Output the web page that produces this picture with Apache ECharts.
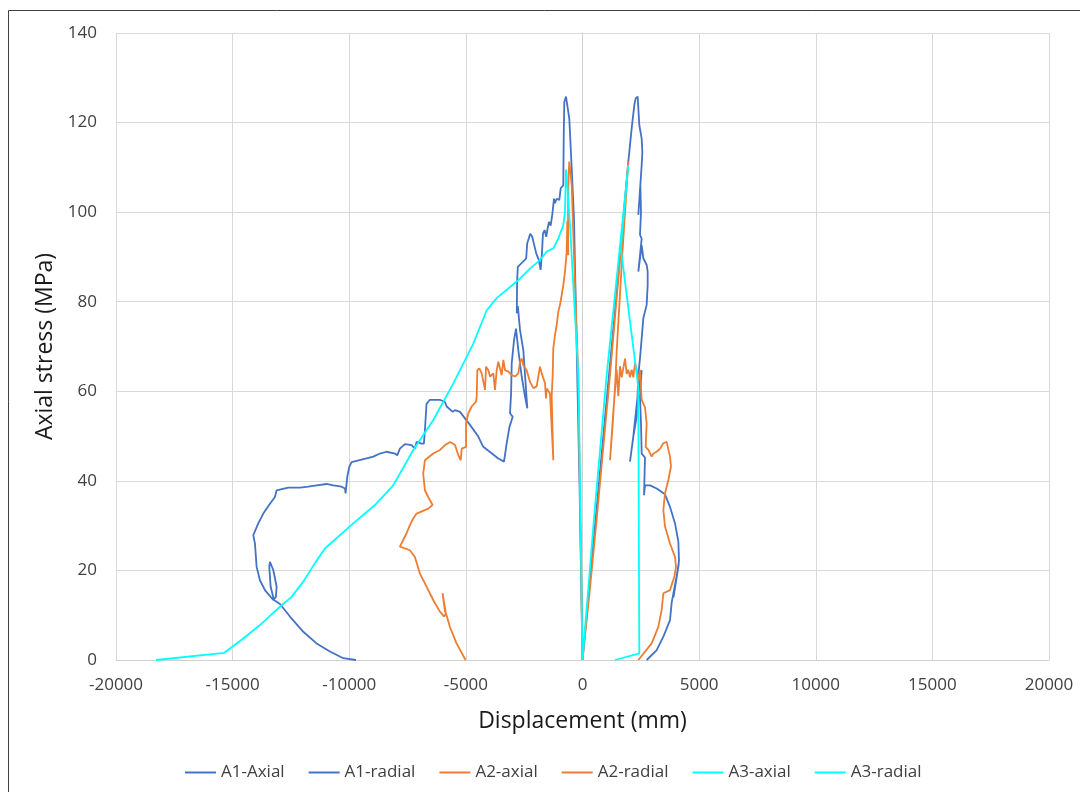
<!DOCTYPE html>
<html>
<head>
<meta charset="utf-8">
<script src="https://cdn.jsdelivr.net/npm/echarts@6/dist/echarts.min.js"></script>
<style>
  html, body { margin: 0; padding: 0; background: #fff; }
  #box { width: 1080px; height: 792px; }
</style>
</head>
<body>
<div id="box"></div>
<script>
// values: [displacement (mm), axial stress (MPa)]
const aA1Axial = [
    [0,0],[500,28],[1000,56],[1500,84],[1965,111.3],[2108,118.7],[2222,123.9],[2279,125.4],[2365,125.8],[2437,125.9],
    [2437,119.4],[2537,116.4],[2566,113.4],[2537,110.5],[2394,99.4],[2480,106.1],[2508,100.1],[2465,94.9],[2537,94.1],
    [2394,86.7],[2537,92.6],[2608,89.7],[2751,88.2],[2794,86.7],[2794,83.7],[2751,79.3],[2680,79.3],[2608,76.3],
    [2537,71.8],[2465,67.4],[2394,63.6],[2322,54.3],[2179,49.9],[2036,44.3],[2180,50],[2322,57],[2465,63],[2537,64.7],
    [2465,58.8],[2508,52.8],[2537,46.1],[2680,45.2],[2637,36.8],[2680,39],[2894,39],[3180,38.3],[3537,37],[3608,36.8],
    [3751,34.2],[3966,30.5],[4109,26.5],[4137,22.1],[4037,18.7],[4130,21.5],[3900,14],[4100,20.5],[3823,12.8],
    [3751,8.9],[3466,5.2],[3180,2.2],[2751,0],
];
const aA1Radial = [
    [0,0],[-130,40],[-250,70],[-364,98.6],[-463,109.8],[-566,120.9],[-707,125.8],[-733,125.9],[-780,124.6],[-805,117],
    [-823,106],[-866,106],[-935,105.3],[-995,102.7],[-1107,103],[-1180,102],[-1222,103],[-1297,99.4],[-1365,97],
    [-1437,97.8],[-1509,96],[-1552,94.5],[-1624,96],[-1696,95.2],[-1739,90.8],[-1796,87.1],[-1868,89.3],[-1983,90.8],
    [-2156,94.5],[-2242,95.2],[-2371,93],[-2414,89.7],[-2558,88.9],[-2773,87.8],[-2802,84.8],[-2817,77.4],[-2773,79],
    [-2679,73.7],[-2538,69.2],[-2366,56.2],[-2465,58.8],[-2607,63.3],[-2752,69.2],[-2850,74],[-2936,71.4],[-3035,66.2],
    [-3061,59.6],[-3108,55.1],[-2992,54.3],[-3133,52],[-3250,48.4],[-3365,44.3],[-3610,45],[-4253,47.6],[-4467,49.9],
    [-4823,52.5],[-5252,55.4],[-5466,55.8],[-5565,55.4],[-5614,55],[-5822,56.6],[-5900,57.6],[-6114,58.1],[-6543,58.1],
    [-6686,57.2],[-6757,51.3],[-6800,48.3],[-6900,48.3],[-7114,48.7],[-7186,47.2],[-7329,48],[-7614,48.2],[-7829,47.2],
    [-7943,45.7],[-8043,46.1],[-8400,46.5],[-8686,46.1],[-8971,45.4],[-9257,45],[-9900,44.2],[-10000,43.1],[-10086,40.9],
    [-10157,37.2],[-10186,38.3],[-10329,38.7],[-10686,39],[-10971,39.3],[-11400,39],[-11757,38.7],[-12114,38.5],
    [-12614,38.5],[-12686,38.3],[-13114,37.9],[-13186,36.4],[-13400,34.9],[-13686,32.7],[-13900,30.5],[-14114,27.9],
    [-14043,26],[-13971,20.8],[-13829,17.8],[-13614,15.6],[-13257,13.4],[-13143,14.1],[-13114,16.4],[-13257,20.1],
    [-13400,21.9],[-13429,20.8],[-13371,16.4],[-13229,13.4],[-12971,12.5],[-12543,9.7],[-11971,6.3],[-11400,3.7],
    [-10829,1.9],[-10257,0.4],[-9714,0],
];
const aA2Axial = [
    [0,0],[300,15],[600,31],[900,48],[1179,63.6],[1500,83],[1800,101],[1965,111.3],[1700,90],[1465,68.9],[1423,63.6],
    [1300,53],[1179,44.6],[1322,55.5],[1465,64.8],[1536,58.9],[1608,65.6],[1679,63.1],[1822,67.3],[1894,63.9],
    [1965,64.8],[2036,63.1],[2108,64.8],[2179,63.1],[2251,66.4],[2322,64.8],[2394,62.2],[2465,64.8],[2537,58],
    [2680,56.4],[2751,52.8],[2708,47.6],[2822,46.9],[2965,45.4],[3037,46.1],[3180,46.5],[3323,47.2],[3466,48.4],
    [3609,48.7],[3680,48.4],[3751,45.4],[3794,43.2],[3680,40.2],[3537,37.2],[3466,33.5],[3537,29.8],[3751,26],
    [3966,23],[4009,20.8],[3937,18.6],[3751,15.6],[3466,14.9],[3394,11.2],[3251,7.4],[2965,3.7],[2394,0],
];
const aA2Radial = [
    [0,0],[-115,40],[-180,63.6],[-322,83.7],[-463,106],[-566,111.3],[-600,108],[-620,100],[-609,90.4],[-650,98],
    [-678,91.2],[-750,86.7],[-823,83.7],[-892,81.5],[-965,79.3],[-1037,77.8],[-1106,74.8],[-1179,72.6],[-1252,69.6],
    [-1278,63.6],[-1322,58.8],[-1251,44.6],[-1393,59.5],[-1536,60.6],[-1565,58.4],[-1607,61.8],[-1750,64],[-1822,65.5],
    [-1893,65.1],[-1965,61.1],[-2108,60.7],[-2251,62.1],[-2393,64.7],[-2536,65.8],[-2608,67.3],[-2679,66.6],[-2750,64],
    [-2893,63.3],[-3036,63.6],[-3179,64.4],[-3322,64.7],[-3393,67],[-3465,63.6],[-3608,66.6],[-3679,64.7],[-3751,60.3],
    [-3822,64],[-3965,63.3],[-4036,64.7],[-4136,65.5],[-4179,60.3],[-4322,64],[-4422,65.1],[-4508,64.7],[-4536,58.8],
    [-4565,57.7],[-4751,56.6],[-4894,55.1],[-4993,52.9],[-4993,47.6],[-5036,47.2],[-5179,47.2],[-5222,44.6],[-5322,45.7],
    [-5465,48],[-5679,48.7],[-5893,48],[-6109,46.9],[-6400,46.1],[-6757,44.6],[-6829,41.6],[-6757,37.9],[-6614,36.4],
    [-6429,34.6],[-6614,33.8],[-7114,32.7],[-7257,31.6],[-7400,30.1],[-7543,28.3],[-7829,25.3],[-7400,24.5],[-7186,23],
    [-6971,19.3],[-6757,17.1],[-6400,13.4],[-6114,10.8],[-5929,9.7],[-5857,10.4],[-6000,14.9],[-6043,15.2],[-5900,11],
    [-5829,10],[-5686,7.4],[-5400,3.7],[-5014,0],
];
const aA3Axial = [
    [0,0],[500,32],[1036,63.6],[1500,87],[1964,110.5],[1640,92],[2390,61],[2436,1.5],[1393,0],
];
const aA3Radial = [
    [0,0],[-107,40.2],[-180,63.6],[-249,70.3],[-394,83.7],[-536,97.1],[-650,106],[-707,109.5],[-750,100.1],[-823,97.1],
    [-1037,94.1],[-1252,91.9],[-1535,91.2],[-1822,89.3],[-2251,87.4],[-2821,84.5],[-3678,80.8],[-4107,78.1],[-4686,70.6],
    [-5543,61.7],[-6396,53.6],[-7254,46.9],[-8114,39],[-8900,34.6],[-9829,30.5],[-11043,24.9],[-11450,21.8],[-11971,17.5],
    [-12471,14.1],[-12971,11.9],[-13829,7.8],[-14543,4.8],[-15357,1.6],[-18286,0],
];
const aNames = ['A1-Axial', 'A1-radial', 'A2-axial', 'A2-radial', 'A3-axial', 'A3-radial'];
const aColors = ['#4472C4', '#4472C4', '#ED7D31', '#ED7D31', '#00FFFF', '#00FFFF'];
const aSeriesData = [aA1Axial, aA1Radial, aA2Axial, aA2Radial, aA3Axial, aA3Radial];

const sFont = '"Open Sans", "Liberation Sans", sans-serif';
const myChart = echarts.init(document.getElementById('box'));

const option = {
    animation: false,
    textStyle: { fontFamily: sFont },
    grid: { left: 116, right: 31, top: 33, bottom: 132 },
    legend: {
        bottom: 6,
        left: 180,
        icon: 'rect',
        itemWidth: 31,
        itemHeight: 2,
        itemGap: 24,
        textStyle: { fontSize: 17, color: '#404040', fontFamily: sFont },
        data: aNames,
    },
    xAxis: {
        type: 'value',
        min: -20000, max: 20000, interval: 5000,
        name: 'Displacement (mm)',
        nameLocation: 'middle',
        nameGap: 50,
        nameTextStyle: { fontSize: 23, color: '#1a1a1a' },
        axisLine: { show: true, onZero: false, lineStyle: { color: '#d0d0d0' } },
        axisTick: { show: false },
        axisLabel: { fontSize: 17, color: '#404040', margin: 17, formatter: v => String(v) },
        splitLine: { show: true, lineStyle: { color: '#d9d9d9' } },
    },
    yAxis: {
        type: 'value',
        min: 0, max: 140, interval: 20,
        name: 'Axial stress (MPa)',
        nameLocation: 'middle',
        nameGap: 58,
        nameTextStyle: { fontSize: 23, color: '#1a1a1a' },
        axisLine: { show: true, lineStyle: { color: '#d0d0d0' } },
        axisTick: { show: false },
        axisLabel: { fontSize: 17, color: '#404040', margin: 19 },
        splitLine: { show: true, lineStyle: { color: '#d9d9d9' } },
    },
    graphic: [{
        type: 'rect',
        silent: true,
        shape: { x: 8.5, y: 10.5, width: 1100, height: 820 },
        style: { fill: 'none', stroke: '#404040', lineWidth: 1 },
    }],
    series: aSeriesData.map((aData, i) => ({
        name: aNames[i],
        type: 'line',
        data: aData,
        symbol: 'none',
        smooth: false,
        color: aColors[i],
        lineStyle: { width: 1.8, color: aColors[i] },
    })),
};
myChart.setOption(option);
</script>
</body>
</html>
